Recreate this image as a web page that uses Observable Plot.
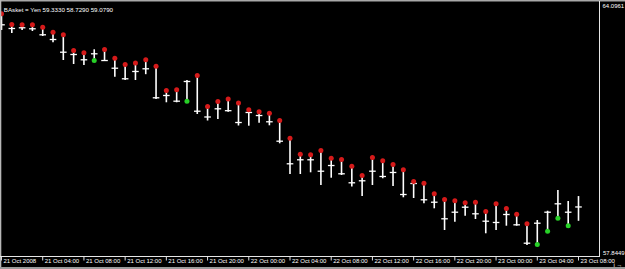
<!DOCTYPE html>
<html><head><meta charset="utf-8">
<script src="https://cdn.jsdelivr.net/npm/d3@7"></script>
<script src="https://cdn.jsdelivr.net/npm/@observablehq/plot@0.6"></script>
<style>html,body{margin:0;padding:0;background:#000;overflow:hidden}svg{display:block}</style>
</head><body><div id="chart"></div>
<script>
const symbol = "BAsket = Yen";
const high = [63.796,63.535,63.527,63.527,63.469,63.346,63.283,62.900,62.843,62.917,
  62.924,62.712,62.558,62.594,62.675,62.516,61.923,61.940,62.167,62.289,
  61.532,61.654,61.715,61.618,61.452,61.403,61.369,61.190,60.758,60.367,
  60.353,60.458,60.270,60.238,60.074,59.847,60.287,60.206,60.116,59.986,
  59.701,59.659,59.403,59.261,59.229,59.181,59.195,58.968,59.156,59.041,
  58.902,58.668,58.748,58.975,59.481,59.212,59.333];
const low = [63.388,63.315,63.388,63.364,63.241,63.088,62.655,62.558,62.533,62.655,
  62.631,62.248,62.167,62.167,62.309,61.703,61.623,61.623,61.662,61.337,
  61.178,61.215,61.393,61.056,61.051,61.124,61.061,60.621,59.872,59.872,
  59.913,59.603,59.781,59.847,59.566,59.334,59.603,59.767,59.579,59.303,
  59.286,59.156,59.034,58.504,58.707,58.853,58.773,58.424,58.504,58.609,
  58.609,58.138,58.162,58.487,58.805,58.619,58.729];
const close = [63.527,63.437,63.454,63.430,63.283,63.168,62.858,62.802,62.673,62.819,
  62.655,62.467,62.209,62.387,62.453,61.745,61.801,61.662,62.143,61.417,
  61.276,61.476,61.430,61.141,61.386,61.312,61.159,60.685,60.133,60.231,
  60.231,59.952,60.091,59.889,59.669,59.718,59.952,59.823,59.921,59.383,
  59.652,59.254,59.195,58.790,58.951,59.073,58.912,58.731,58.700,58.895,
  58.643,58.194,58.682,58.951,59.156,58.951,59.079];
// indicator dot: "H" = red dot at the bar's high, "L" = green dot at the bar's low
const signal = ["H","H","H","H","H","H","H","H","H","L",
  "H","H","H","H","H","H","H","H","L","H",
  "H","H","H","H","H","H","H","H","H","H",
  "H","H","H","H","H","H","H","H","H","H",
  "H","H","H","H","H","H","H","H","H","H",
  "H","H","L","L","L","L",""];
const tickHours = [0,4,8,12,16,20,24,28,32,36,40,44,48,52,56];
const tickLabels = ["21 Oct 2008","21 Oct 04:00","21 Oct 08:00","21 Oct 12:00","21 Oct 16:00",
  "21 Oct 20:00","22 Oct 00:00","22 Oct 04:00","22 Oct 08:00","22 Oct 12:00",
  "22 Oct 16:00","22 Oct 20:00","23 Oct 00:00","23 Oct 04:00","23 Oct 08:00"];
const priceMin = 57.8449, priceMax = 64.0961;

const bars = high.map((h, i) => ({i, high: h, low: low[i], close: close[i], sig: signal[i]}));
const dots = bars.filter(d => d.sig).map(d => ({i: d.i, y: d.sig === "H" ? d.high : d.low, c: d.sig === "H" ? "#d51a1a" : "#27d027"}));
const last = bars[bars.length - 1];
const header = `${symbol} ${last.high.toFixed(4)} ${last.low.toFixed(4)} ${last.close.toFixed(4)}`;
const font = "'Liberation Sans', Arial, sans-serif";

const marks = [
  Plot.ruleX(bars, {x: "i", y1: "low", y2: "high", stroke: "#fff", strokeWidth: 1.6}),
  Plot.link(bars, {x1: d => d.i - 0.32, x2: d => d.i + 0.32, y1: "close", y2: "close", stroke: "#fff", strokeWidth: 1.3}),
  Plot.dot(dots, {x: "i", y: "y", r: 2.5, fill: d => d.c, stroke: null}),
  Plot.text([header], {text: d => d, frameAnchor: "top-left", dx: 2.3, dy: 6.3, textAnchor: "start", fill: "#fff", fontSize: 6.2}),
  Plot.text(tickHours, {x: d => d, text: (d, i) => tickLabels[i], frameAnchor: "bottom", textAnchor: "start", dx: 2, dy: 5.4, fill: "#fff", fontSize: 6}),
  Plot.text([priceMax], {y: d => d, text: d => d.toFixed(4), frameAnchor: "right", textAnchor: "start", dx: 3, dy: 5, fill: "#fff", fontSize: 6}),
  Plot.text([priceMin], {y: d => d, text: d => d.toFixed(4), frameAnchor: "right", textAnchor: "start", dx: 3.5, dy: -4.3, fill: "#fff", fontSize: 6})
];
if (typeof Plot.axisX === "function") {
  marks.push(Plot.axisX(tickHours, {tickSize: 3.5, tickFormat: () => "", stroke: "#e0e0e0", strokeWidth: 1}));
}

const chart = Plot.plot({
  width: 625, height: 269,
  marginTop: 1, marginBottom: 12, marginLeft: 1, marginRight: 26,
  x: {domain: [0, 56], range: [1, 578], axis: null},
  y: {domain: [priceMin, priceMax], axis: null},
  style: {background: "#000", color: "#fff", fontFamily: font, fontSize: "6px"},
  marks
});

const svg = d3.select(chart);
svg.append("rect").attr("x", 0).attr("y", 0).attr("width", 625).attr("height", 1.5).attr("fill", "#a8a8a8");
svg.append("rect").attr("x", 0).attr("y", 0).attr("width", 1.3).attr("height", 268).attr("fill", "#b8b8b8");
svg.append("line").attr("x1", 599.5).attr("x2", 599.5).attr("y1", 1).attr("y2", 257).attr("stroke", "#e6e6e6");
svg.append("line").attr("x1", 0).attr("x2", 600).attr("y1", 256.5).attr("y2", 256.5).attr("stroke", "#e6e6e6");
svg.append("rect").attr("x", 0).attr("y", 267).attr("width", 625).attr("height", 2).attr("fill", "#9a9a9a");
document.getElementById("chart").appendChild(chart);
</script>
</body></html>
